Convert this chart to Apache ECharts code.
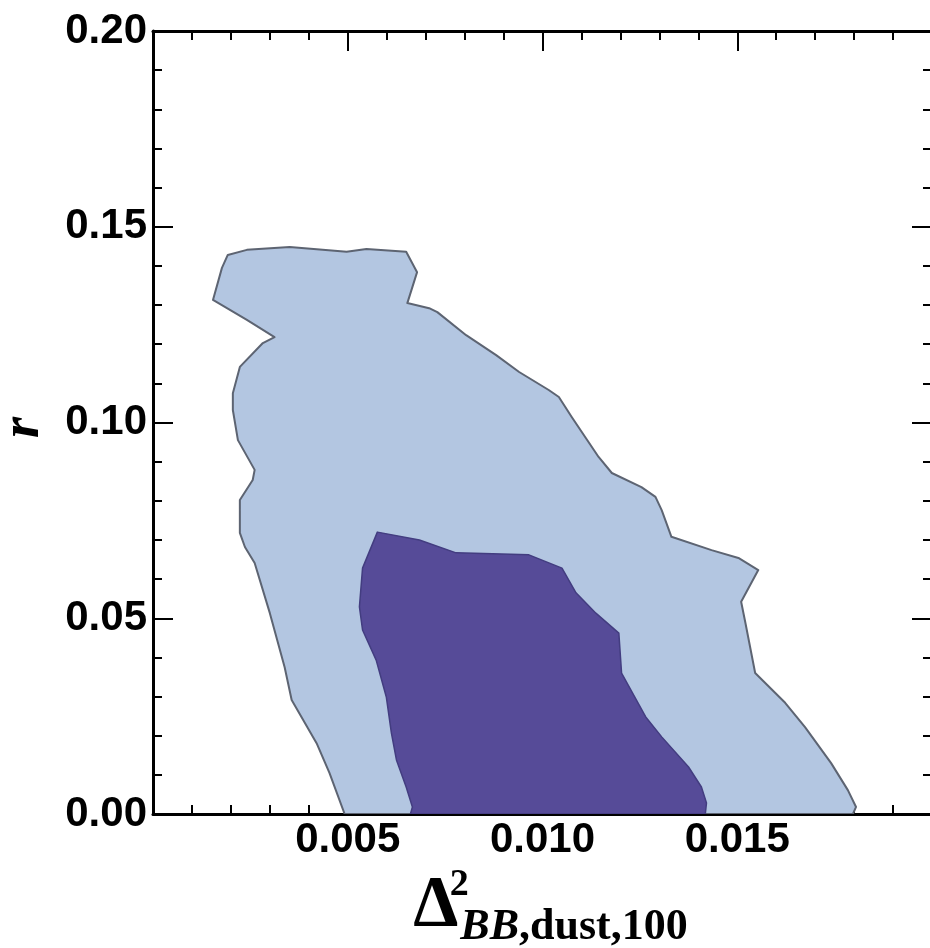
<!DOCTYPE html>
<html>
<head>
<meta charset="utf-8">
<script src="https://cdn.jsdelivr.net/npm/echarts@6/dist/echarts.min.js"></script>
<style>
html,body{margin:0;padding:0;background:#fff;}
#chart{width:930px;height:948px;}
</style>
</head>
<body>
<div id="chart"></div>
<script>
// Outer (light) credible region contour: x = Delta^2_BB,dust,100, y = r
const outerX = [0.00492,0.00453,0.00420,0.00356,0.00338,0.00300,0.00261,0.00236,0.00223,0.00223,0.00256,0.00261,0.00218,0.00205,0.00205,0.00223,0.00282,0.00312,0.00241,0.00154,0.00177,0.00192,0.00241,0.00351,0.00497,0.00548,0.00650,0.00678,0.00653,0.00709,0.00730,0.00804,0.00881,0.00940,0.01016,0.01042,0.01075,0.01144,0.01178,0.01254,0.01290,0.01306,0.01331,0.01434,0.01503,0.01554,0.01510,0.01521,0.01546,0.01623,0.01674,0.01741,0.01784,0.01805,0.01797];
const outerY = [0.0000,0.0105,0.0181,0.0291,0.0375,0.0513,0.0641,0.0682,0.0718,0.0802,0.0853,0.0879,0.0955,0.1032,0.1075,0.1142,0.1203,0.1218,0.1262,0.1313,0.1395,0.1428,0.1441,0.1448,0.1436,0.1443,0.1436,0.1384,0.1305,0.1292,0.1282,0.1223,0.1172,0.1129,0.1083,0.1065,0.1014,0.0912,0.0871,0.0835,0.0810,0.0776,0.0708,0.0674,0.0654,0.0623,0.0542,0.0488,0.0360,0.0284,0.0222,0.0130,0.0061,0.0018,0.0000];
// Inner (dark) credible region contour
const innerX = [0.00661,0.00666,0.00650,0.00625,0.00612,0.00599,0.00573,0.00538,0.00530,0.00538,0.00576,0.00684,0.00778,0.00965,0.01050,0.01086,0.01137,0.01196,0.01203,0.01265,0.01306,0.01375,0.01408,0.01421,0.01418];
const innerY = [0.0000,0.0018,0.0069,0.0138,0.0207,0.0299,0.0393,0.0470,0.0529,0.0628,0.0720,0.0700,0.0667,0.0662,0.0628,0.0565,0.0513,0.0462,0.0360,0.0248,0.0197,0.0120,0.0069,0.0028,0.0000];

const contours = [
  {x: outerX, y: outerY, fill: '#b3c6e1', stroke: '#5d6472', lw: 2},
  {x: innerX, y: innerY, fill: '#564b98', stroke: '#433d80', lw: 1.5}
];

const chart = echarts.init(document.getElementById('chart'), null, {renderer: 'canvas'});
const labelFont = {fontFamily: 'Liberation Sans', fontWeight: 'bold', fontSize: 42, color: '#000'};
const axisLine = {show: true, onZero: false, lineStyle: {color: '#000', width: 3}};
const tick = {show: true, inside: true, length: 20, lineStyle: {color: '#000', width: 2}};
const minor = {show: true, splitNumber: 5, length: 9, lineStyle: {color: '#000', width: 2}};

chart.setOption({
  animation: false,
  backgroundColor: '#fff',
  grid: {left: 153, top: 31, width: 779, height: 783, containLabel: false, outerBoundsMode: 'none'},
  xAxis: [{
    type: 'value', min: 0, max: 0.02, interval: 0.005, position: 'bottom',
    axisLine, axisTick: tick, minorTick: minor, splitLine: {show: false},
    axisLabel: Object.assign({margin: 5, formatter: v => (v === 0 || v >= 0.02) ? '' : v.toFixed(3)}, labelFont),
    name: '{d|Δ}{sup|2}{it|BB}{sub|,dust,100}',
    nameLocation: 'middle', nameGap: 52,
    nameTextStyle: {
      padding: [0, 0, 0, 16],
      rich: {
        d: {fontFamily: 'Liberation Serif', fontWeight: 'bold', fontSize: 72, lineHeight: 84, verticalAlign: 'bottom', padding: [0, 0, 8, 0], color: '#000'},
        sup: {fontFamily: 'Liberation Serif', fontWeight: 'bold', fontSize: 38, lineHeight: 26, verticalAlign: 'top', width: 2, color: '#000'},
        it: {fontFamily: 'Liberation Serif', fontWeight: 'bold', fontStyle: 'italic', fontSize: 44, lineHeight: 44, verticalAlign: 'bottom', color: '#000'},
        sub: {fontFamily: 'Liberation Serif', fontWeight: 'bold', fontSize: 44, lineHeight: 44, verticalAlign: 'bottom', color: '#000'}
      }
    }
  }, {
    type: 'value', min: 0, max: 0.02, interval: 0.005, position: 'top',
    axisLine, axisTick: tick, minorTick: minor, splitLine: {show: false},
    axisLabel: {show: false}
  }],
  yAxis: [{
    type: 'value', min: 0, max: 0.2, interval: 0.05, position: 'left',
    axisLine, axisTick: tick, minorTick: minor, splitLine: {show: false},
    axisLabel: Object.assign({margin: 6, formatter: v => v.toFixed(2)}, labelFont),
    name: 'r', nameLocation: 'middle', nameRotate: 90, nameGap: 102,
    nameTextStyle: {fontFamily: 'Liberation Serif', fontWeight: 'bold', fontStyle: 'italic', fontSize: 54, padding: [0, 10, 0, 0], color: '#000'}
  }, {
    type: 'value', min: 0, max: 0.2, interval: 0.05, position: 'right',
    axisLine, axisTick: tick, minorTick: minor, splitLine: {show: false},
    axisLabel: {show: false}
  }],
  series: [{
    type: 'custom',
    coordinateSystem: 'cartesian2d',
    clip: true,
    data: contours.map((c, i) => [c.x[0], c.y[0], i]),
    encode: {x: 0, y: 1},
    renderItem: function (params, api) {
      const c = contours[params.dataIndex];
      const pts = c.x.map((xv, k) => api.coord([xv, c.y[k]]));
      return {
        type: 'polygon',
        shape: {points: pts},
        style: {fill: c.fill, stroke: c.stroke, lineWidth: c.lw, lineJoin: 'round'}
      };
    },
    z: 1
  }]
});
</script>
</body>
</html>
